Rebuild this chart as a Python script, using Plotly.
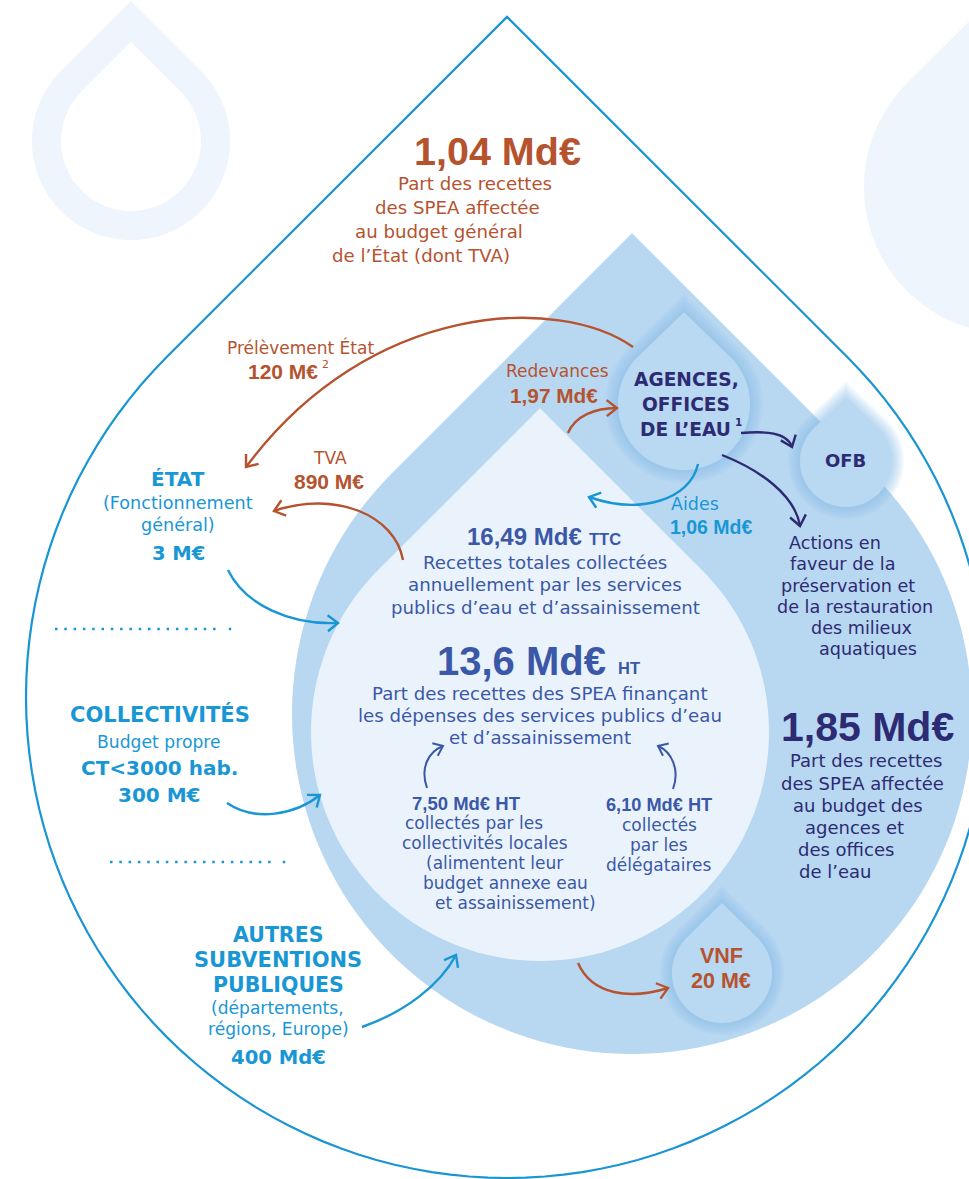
import math
import plotly.graph_objects as go

# ---------------- data (values read from the infographic) ----------------
state_share = "1,04 Md€"
state_share_text = ["Part des recettes", "des SPEA affectée", "au budget général", "de l’État (dont TVA)"]

flow_labels = ["Prélèvement État", "Redevances", "TVA", "Aides"]
flow_values = ["120 M€", "1,97 Md€", "890 M€", "1,06 Md€"]

total_ttc = "16,49 Md€"
total_ttc_text = ["Recettes totales collectées", "annuellement par les services", "publics d’eau et d’assainissement"]

total_ht = "13,6 Md€"
total_ht_text = ["Part des recettes des SPEA finançant", "les dépenses des services publics d’eau", "et d’assainissement"]

collected_values = ["7,50 Md€ HT", "6,10 Md€ HT"]
collected_local_text = ["collectés par les", "collectivités locales", "(alimentent leur", "budget annexe eau", "et assainissement)"]
collected_deleg_text = ["collectés", "par les", "délégataires"]

agencies_share = "1,85 Md€"
agencies_share_text = ["Part des recettes", "des SPEA affectée", "au budget des", "agences et", "des offices", "de l’eau"]

actions_text = ["Actions en", "faveur de la", "préservation et", "de la restauration", "des milieux", "aquatiques"]

source_names = ["ÉTAT", "COLLECTIVITÉS", "AUTRES SUBVENTIONS PUBLIQUES"]
source_details = [["(Fonctionnement", "général)"], ["Budget propre", "CT<3000 hab."], ["(départements,", "régions, Europe)"]]
source_values = ["3 M€", "300 M€", "400 Md€"]

vnf_value = "20 M€"

# ---------------- styling ----------------
BROWN = "#B5532F"
NAVY = "#2D2B73"
CYAN = "#1997D5"
MBLUE = "#3A58A7"
OUTLINE = "#1A95D3"
MID = "#B8D7F1"
LIGHT = "#EAF3FC"
BG = "#EEF5FD"
REG = "DejaVu Sans"
NUM = "Liberation Sans"

W, H = 969, 1179
shapes = []
annotations = []


def drop_path(cx, cy, R, ratio=1.414, n=120):
    tx, ty = cx, cy - R * ratio
    d = math.hypot(tx - cx, ty - cy)
    phi = math.atan2(ty - cy, tx - cx)
    a = math.acos(R / d)
    start = phi + a
    end = phi + 2 * math.pi - a
    pts = [f"M {tx:.2f},{ty:.2f}"]
    for i in range(n + 1):
        th = start + (end - start) * i / n
        pts.append(f"L {cx + R * math.cos(th):.2f},{cy + R * math.sin(th):.2f}")
    pts.append("Z")
    return " ".join(pts)


def add_drop(cx, cy, R, fill=None, line=None, lw=0, ratio=1.414):
    shapes.append(dict(type="path", path=drop_path(cx, cy, R, ratio), xref="x", yref="y",
                       fillcolor=fill if fill else "rgba(0,0,0,0)",
                       line=dict(color=line if line else "rgba(0,0,0,0)", width=lw), layer="below"))


def add_glow_drop(cx, cy, R, ratio=1.4, glow=13, layers=7):
    for k in range(layers):
        r = R + glow * (1 - k / layers)
        add_drop(cx, cy, r, fill="rgba(125,190,235,0.085)", ratio=ratio)
    add_drop(cx, cy, R, fill="#B9D8F2", ratio=ratio)


def bez(p0, c1, c2, p3, t):
    return tuple((1 - t) ** 3 * p0[i] + 3 * (1 - t) ** 2 * t * c1[i] + 3 * (1 - t) * t ** 2 * c2[i] + t ** 3 * p3[i]
                 for i in range(2))


def add_arrow(p0, c1, c2, p3, color, lw=2.4, head=13, ang=38):
    shapes.append(dict(type="path", xref="x", yref="y",
                       path=f"M {p0[0]},{p0[1]} C {c1[0]},{c1[1]} {c2[0]},{c2[1]} {p3[0]},{p3[1]}",
                       line=dict(color=color, width=lw), fillcolor="rgba(0,0,0,0)", layer="above"))
    q = bez(p0, c1, c2, p3, 0.96)
    dx, dy = p3[0] - q[0], p3[1] - q[1]
    L = math.hypot(dx, dy)
    dx, dy = dx / L, dy / L
    arms = []
    for s in (1, -1):
        a = math.radians(ang) * s
        rx = dx * math.cos(a) - dy * math.sin(a)
        ry = dx * math.sin(a) + dy * math.cos(a)
        arms.append((p3[0] - head * rx, p3[1] - head * ry))
    shapes.append(dict(type="path", xref="x", yref="y",
                       path=f"M {arms[0][0]:.2f},{arms[0][1]:.2f} L {p3[0]},{p3[1]} L {arms[1][0]:.2f},{arms[1][1]:.2f}",
                       line=dict(color=color, width=lw), fillcolor="rgba(0,0,0,0)", layer="above"))


def txt(text, x, y, size, color, family=REG, bold=False, anchor="center"):
    annotations.append(dict(text=text, x=x, y=y, xref="x", yref="y", showarrow=False,
                            xanchor=anchor, yanchor="middle", borderpad=0,
                            font=dict(family=family, size=size, color=color, weight=700 if bold else 400)))


# ---------------- background drops ----------------
add_drop(131, 141, 99, fill=BG)
add_drop(131, 141, 70, fill="white")
add_drop(1011, 187, 147, fill=BG)

# main outline drop
add_drop(507, 697, 481, fill="white", line=OUTLINE, lw=2.2)
# medium drop
add_drop(632, 714, 340, fill=MID)
# inner light drop
add_drop(540, 732, 229, fill=LIGHT)
# small glowing drops
add_glow_drop(684, 404, 66, ratio=1.39)
add_glow_drop(846, 461, 46, ratio=1.37, glow=12)
add_glow_drop(722, 973, 50, ratio=1.40, glow=12)

# dotted separators
for (x0, x1, xe, y) in [(55, 218, 230, 629), (110, 272, 284, 862)]:
    shapes.append(dict(type="line", x0=x0, x1=x1, y0=y, y1=y, xref="x", yref="y",
                       line=dict(color=CYAN, width=2.5, dash="2.5px,6.8px")))
    shapes.append(dict(type="line", x0=xe - 1.2, x1=xe + 1.2, y0=y, y1=y, xref="x", yref="y",
                       line=dict(color=CYAN, width=2.5)))

# ---------------- arrows ----------------
add_arrow((633, 347), (560, 295), (370, 300), (246, 467), BROWN)
add_arrow((568, 433), (575, 416), (595, 408), (617, 408), BROWN)
add_arrow((403, 560), (395, 515), (335, 490), (274, 511), BROWN)
add_arrow((578, 963), (592, 995), (630, 1000), (668, 988), BROWN)
add_arrow((741, 433), (765, 431), (787, 432), (792, 447), NAVY)
add_arrow((722, 455), (760, 470), (795, 495), (800, 526), NAVY)
add_arrow((698, 464), (690, 500), (640, 515), (589, 497), CYAN)
add_arrow((228, 570), (245, 605), (290, 625), (338, 623), CYAN)
add_arrow((227, 803), (255, 822), (295, 815), (320, 795), CYAN)
add_arrow((362, 1027), (405, 1012), (440, 985), (456, 955), CYAN)
add_arrow((427, 788), (420, 768), (428, 752), (443, 746), MBLUE, lw=2.0, head=11)
add_arrow((673, 789), (680, 770), (672, 752), (658, 746), MBLUE, lw=2.0, head=11)

# ---------------- texts ----------------
txt(state_share, 497, 151, 39.5, BROWN, NUM, True)
for t, x, y in zip(state_share_text, [475, 457, 439, 421], [183, 207, 231, 255]):
    txt(t, x, y, 18.2, BROWN)

txt(flow_labels[0], 300, 347, 17, BROWN)
txt(flow_values[0], 319, 371, 21, BROWN, NUM, True, anchor="right")
txt("2", 321, 364, 11, BROWN, REG, anchor="left")
txt(flow_labels[1], 557, 371, 17, BROWN)
txt(flow_values[1], 554, 395, 20.8, BROWN, NUM, True)
txt(flow_labels[2], 330, 458, 17, BROWN)
txt(flow_values[2], 329, 481, 21, BROWN, NUM, True)
txt(flow_labels[3], 695, 504, 17.5, CYAN)
txt(flow_values[3], 711, 527, 19.5, CYAN, NUM, True)

txt("AGENCES,", 686, 379, 18.6, NAVY, REG, True)
txt("OFFICES", 686, 404, 18.6, NAVY, REG, True)
txt("DE L’EAU", 732, 429, 18.6, NAVY, REG, True, anchor="right")
txt("1", 734, 422, 10.5, NAVY, REG, True, anchor="left")
txt("OFB", 845, 460, 18, NAVY, REG, True)

for t, x, y in zip(actions_text, [835, 842, 848, 855, 861, 868], [543, 564, 586, 607, 628, 649]):
    txt(t, x, y, 17.6, NAVY)

txt(agencies_share, 867, 727, 41, NAVY, NUM, True)
for t, x, y in zip(agencies_share_text, [866, 862, 858, 854, 846, 835], [760, 783, 805, 827, 849, 871]):
    txt(t, x, y, 18, NAVY)

# sources
txt(source_names[0], 178, 479, 20, CYAN, REG, True)
txt(source_details[0][0], 178, 503, 17.6, CYAN)
txt(source_details[0][1], 178, 525, 17.6, CYAN)
txt(source_values[0], 178, 553, 19.5, CYAN, REG, True)

txt(source_names[1], 160, 714, 21, CYAN, REG, True)
txt(source_details[1][0], 159, 742, 17.2, CYAN)
txt(source_details[1][1].replace("<", "&lt;"), 159, 768, 20, CYAN, REG, True)
txt(source_values[1], 159, 795, 20, CYAN, REG, True)

for t, y, s in zip(source_names[2].split(" "), [935, 960, 985], [20.5, 21, 20.5]):
    txt(t, 278, y, s, CYAN, REG, True)
txt(source_details[2][0], 277, 1008, 17.1, CYAN)
txt(source_details[2][1], 278, 1029, 17.1, CYAN)
txt(source_values[2], 278, 1057, 19.6, CYAN, REG, True)

# centre
txt(total_ttc, 583, 536, 24, MBLUE, NUM, True, anchor="right")
txt("TTC", 588, 539, 16.5, MBLUE, NUM, True, anchor="left")
for t, y in zip(total_ttc_text, [562, 584, 607]):
    txt(t, 545, y, 18.2, MBLUE)
txt(total_ht, 607, 661, 40, MBLUE, NUM, True, anchor="right")
txt("HT", 617, 668, 16.5, MBLUE, NUM, True, anchor="left")
for t, y in zip(total_ht_text, [693, 715, 737]):
    txt(t, 540, y, 18.2, MBLUE)

txt(collected_values[0], 466, 803, 18.5, MBLUE, NUM, True)
for t, x, y in zip(collected_local_text, [474, 485, 494, 505, 515], [823, 843, 863, 883, 903]):
    txt(t, x, y, 17, MBLUE)
txt(collected_values[1], 659, 805, 18.2, MBLUE, NUM, True)
for t, y in zip(collected_deleg_text, [825, 845, 865]):
    txt(t, 659, y, 17, MBLUE)

txt("VNF", 721, 956, 21.5, BROWN, NUM, True)
txt(vnf_value, 721, 981, 21.5, BROWN, NUM, True)

fig = go.Figure()
fig.update_layout(
    width=W, height=H, margin=dict(l=0, r=0, t=0, b=0),
    paper_bgcolor="white", plot_bgcolor="white",
    xaxis=dict(range=[0, W], visible=False, fixedrange=True),
    yaxis=dict(range=[H, 0], visible=False, fixedrange=True),
    shapes=shapes, annotations=annotations, showlegend=False, hovermode=False,
)
fig.write_html("out.html", config={"displayModeBar": False},
               post_script="document.body.style.margin='0';")
